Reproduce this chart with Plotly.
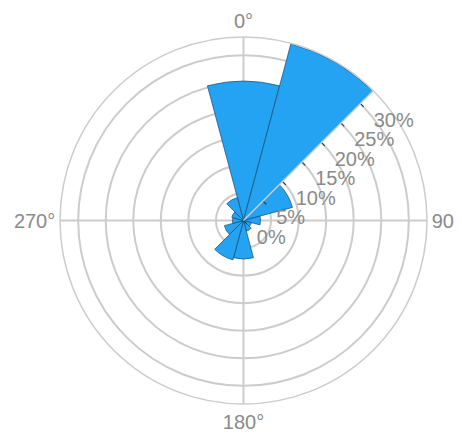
import plotly.graph_objects as go

# direction bins (deg) and frequency (%)
directions = [0, 30, 60, 90, 120, 150, 180, 210, 240, 270, 300, 330]
frequency = [25.3, 33.2, 9.2, 3.1, 1.5, 2.0, 7.0, 7.4, 3.6, 2.0, 2.2, 4.3]

radial_ticks = [0, 5, 10, 15, 20, 25, 30]
angular_ticks = [0, 90, 180, 270]

colors = {
    'bar': '#23a3f2',
    'edge': 'rgba(25,75,115,0.7)',
    'grid': '#cccccc',
    'text': '#8a8a8a',
}

fig = go.Figure()

fig.add_trace(go.Barpolar(
    r=frequency,
    theta=directions,
    width=[30] * len(directions),
    marker=dict(color=colors['bar'], line=dict(color=colors['edge'], width=1)),
    showlegend=False,
))

fig.update_layout(
    width=454,
    height=426,
    margin=dict(l=52, r=35, t=29, b=30),
    paper_bgcolor='white',
    font=dict(family='Liberation Sans', size=20, color=colors['text']),
    polar=dict(
        bgcolor='white',
        bargap=0,
        radialaxis=dict(
            range=[0, 33.3],
            angle=45,
            tickvals=radial_ticks,
            ticktext=[f'{v}%' for v in radial_ticks],
            ticks='outside',
            ticklen=4,
            tickcolor='#333333',
            showline=True,
            linecolor=colors['grid'],
            linewidth=1.5,
            gridcolor=colors['grid'],
            gridwidth=1.5,
            tickangle=45,
            tickfont=dict(size=20, color=colors['text']),
        ),
        angularaxis=dict(
            direction='clockwise',
            rotation=90,
            tickvals=angular_ticks,
            ticktext=[f'{a}°' for a in angular_ticks],
            ticks='',
            showline=True,
            linecolor=colors['grid'],
            linewidth=1.5,
            gridcolor=colors['grid'],
            gridwidth=1.5,
            tickfont=dict(size=20, color=colors['text']),
        ),
    ),
)

fig.write_html('out.html')
